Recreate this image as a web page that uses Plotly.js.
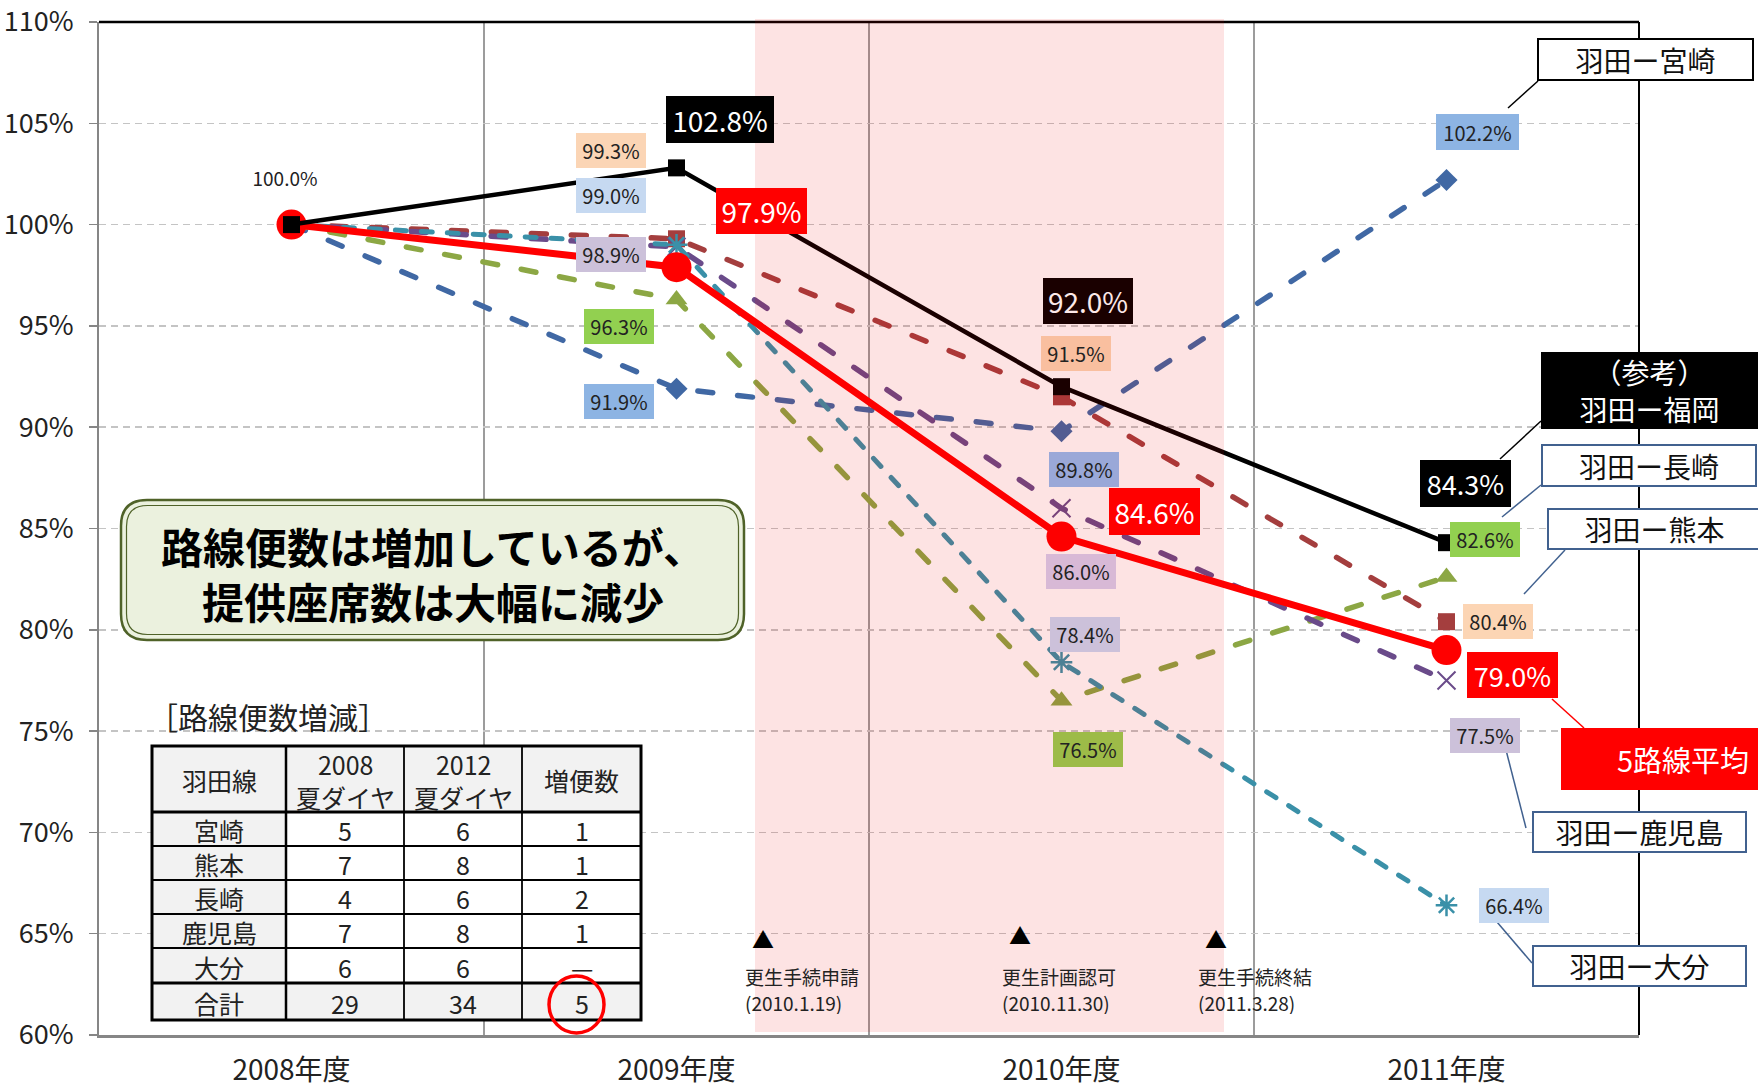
<!DOCTYPE html>
<html><head><meta charset="utf-8">
<script src="https://cdn.plot.ly/plotly-3.0.1.min.js"></script>
<style>
html,body{margin:0;padding:0;background:#fff;}
#chart{width:1758px;height:1088px;}
.scatterlayer .js-line{stroke-linecap:round;}
</style>
</head><body><div id="chart"></div>
<script>
// ---------- DATA ----------
const years = ['2008年度', '2009年度', '2010年度', '2011年度'];
const yTickVals = [60, 65, 70, 75, 80, 85, 90, 95, 100, 105, 110];
const yTickLabels = ['60%', '65%', '70%', '75%', '80%', '85%', '90%', '95%', '100%', '105%', '110%'];

const fukuoka   = [100.0, 102.8, 92.0, 84.3];   // (参考) 羽田ー福岡
const avg5      = [100.0, 97.9, 84.6, 79.0];    // 5路線平均
const miyazaki  = [100.0, 91.9, 89.8, 102.2];   // 羽田ー宮崎
const kumamoto  = [100.0, 99.3, 91.5, 80.4];    // 羽田ー熊本
const nagasaki  = [100.0, 96.3, 76.5, 82.6];    // 羽田ー長崎
const kagoshima = [100.0, 98.9, 86.0, 77.5];    // 羽田ー鹿児島
const oita      = [100.0, 99.0, 78.4, 66.4];    // 羽田ー大分

const seriesNames = ['羽田ー宮崎', '羽田ー熊本', '羽田ー長崎', '羽田ー鹿児島', '羽田ー大分', '5路線平均', '（参考）<br>羽田ー福岡'];

// table
const tblTitle = '［路線便数増減］';
const tblHeader = ['羽田線', '2008<br>夏ダイヤ', '2012<br>夏ダイヤ', '増便数'];
const tblRoutes = ['宮崎', '熊本', '長崎', '鹿児島', '大分', '合計'];
const tbl2008 = ['5', '7', '4', '7', '6', '29'];
const tbl2012 = ['6', '8', '6', '8', '6', '34'];
const tblInc = ['1', '1', '2', '1', '—', '5'];

// events
const eventNames = ['更生手続申請', '更生計画認可', '更生手続終結'];
const eventDates = ['(2010.1.19)', '(2010.11.30)', '(2011.3.28)'];

const message = '<b>路線便数は増加しているが、<br>提供座席数は大幅に減少</b>';

// ---------- LAYOUT HELPERS ----------
const W = 1758, H = 1088;
const L = 99, R = 1639, T = 22, B = 1035;
const PX = x => (x - L) / (R - L);
const PY = y => (B - y) / (B - T);
const FONT = '"Noto Sans CJK JP", "Noto Sans", sans-serif';

const st = {
  miyazaki:  {color: '#4068A4', dash: '15px,25px', width: 5.5, symbol: 'diamond', size: 17},
  kumamoto:  {color: '#A43E3E', dash: '15px,25px', width: 5.5, symbol: 'square', size: 17},
  nagasaki:  {color: '#8CA744', dash: '15px,24px', width: 5.5, symbol: 'triangle-up', size: 19},
  kagoshima: {color: '#6A4B8A', dash: '15px,25px', width: 5.5, symbol: 'x-thin-open', size: 18, mlw: 2},
  oita:      {color: '#3A90A8', dash: '11px,15px', width: 5, symbol: 'asterisk-open', size: 18, mlw: 2.5},
  avg5:      {color: '#FF0000', dash: 'solid', width: 7, symbol: 'circle', size: 30},
  fukuoka:   {color: '#000000', dash: 'solid', width: 4.5, symbol: 'square', size: 17}
};

function trace(name, y, s) {
  return {
    type: 'scatter', mode: 'lines+markers', x: years, y: y, name: name,
    line: {color: s.color, width: s.width, dash: s.dash},
    marker: {symbol: s.symbol, size: s.size, color: s.color,
             line: {color: s.color, width: s.mlw || 0}},
    cliponaxis: false, hoverinfo: 'skip', showlegend: false
  };
}

const data = [
  trace(seriesNames[0], miyazaki, st.miyazaki),
  trace(seriesNames[1], kumamoto, st.kumamoto),
  trace(seriesNames[2], nagasaki, st.nagasaki),
  trace(seriesNames[3], kagoshima, st.kagoshima),
  trace(seriesNames[4], oita, st.oita),
  trace(seriesNames[5], avg5, st.avg5),
  trace(seriesNames[6], fukuoka, st.fukuoka)
];

// ---------- DATA LABELS ----------
const lbl = [
  {s: fukuoka, i: 0, dx: -7, dy: 48, bg: 'rgba(0,0,0,0)', fc: '#222', fs: 19, w: 72, h: 24},
  {s: fukuoka, i: 1, dx: 43.5, dy: 48, bg: '#000000', fc: '#fff', fs: 28, w: 108, h: 47},
  {s: fukuoka, i: 2, dx: 26.5, dy: 86, bg: '#1A0000', fc: '#FCE8E8', fs: 28, w: 90, h: 46},
  {s: fukuoka, i: 3, dx: 18.5, dy: 58.7, bg: '#000000', fc: '#fff', fs: 27, w: 91, h: 47},
  {s: avg5, i: 1, dx: 85, dy: 56, bg: '#FF0000', fc: '#fff', fs: 28, w: 91, h: 46},
  {s: avg5, i: 2, dx: 93, dy: 25.5, bg: '#FF0000', fc: '#fff', fs: 28, w: 91, h: 47},
  {s: avg5, i: 3, dx: 66, dy: -25, bg: '#FF0000', fc: '#fff', fs: 27, w: 91, h: 46},
  {s: miyazaki, i: 1, dx: -57.5, dy: -13, bg: '#8DB4E3'},
  {s: miyazaki, i: 2, dx: 22, dy: -38, bg: '#9AA8D8'},
  {s: miyazaki, i: 3, dx: 31, dy: 48, bg: '#8DB4E3', w: 83, h: 36},
  {s: kumamoto, i: 1, dx: -65.5, dy: 88, bg: '#FBD5B5'},
  {s: kumamoto, i: 2, dx: 14.5, dy: 43, bg: '#F9BF9F'},
  {s: kumamoto, i: 3, dx: 51.5, dy: 0, bg: '#FCD5B4'},
  {s: nagasaki, i: 1, dx: -57.5, dy: -26.5, bg: '#92D050'},
  {s: nagasaki, i: 2, dx: 26, dy: -49, bg: '#9DBB48'},
  {s: nagasaki, i: 3, dx: 38.5, dy: 38, bg: '#92D050'},
  {s: kagoshima, i: 1, dx: -65.5, dy: -8, bg: '#CCC1DA'},
  {s: kagoshima, i: 2, dx: 19.5, dy: -63, bg: '#D8B9D6'},
  {s: kagoshima, i: 3, dx: 38.5, dy: -55, bg: '#CCC1DA'},
  {s: oita, i: 1, dx: -65.5, dy: 49, bg: '#C6D9F1'},
  {s: oita, i: 2, dx: 23, dy: 28, bg: '#CCC1DA'},
  {s: oita, i: 3, dx: 67.5, dy: 0, bg: '#C6D9F1'}
];

const annotations = [];
lbl.forEach(o => {
  annotations.push({
    xref: 'x', yref: 'y', x: years[o.i], y: o.s[o.i],
    xshift: o.dx, yshift: o.dy, showarrow: false,
    text: o.s[o.i].toFixed(1) + '%',
    bgcolor: o.bg, borderpad: 0, borderwidth: 0,
    width: o.w || 70, height: o.h || 35,
    align: 'center', valign: 'middle',
    font: {family: FONT, size: o.fs || 20, color: o.fc || '#222'}
  });
});

// paper annotation helper
function pa(text, cx, cy, opt) {
  opt = opt || {};
  const a = {
    xref: 'paper', yref: 'paper', x: PX(cx), y: PY(cy),
    xanchor: opt.xanchor || 'center', yanchor: 'middle',
    text: text, showarrow: false, align: opt.align || 'center', valign: 'middle',
    font: {family: FONT, size: opt.fs || 20, color: opt.fc || '#111'}
  };
  if (opt.bg) a.bgcolor = opt.bg;
  if (opt.bc) { a.bordercolor = opt.bc; a.borderwidth = opt.bw || 2; }
  else a.borderwidth = 0;
  a.borderpad = 0;
  if (opt.w) a.width = opt.w;
  if (opt.h) a.height = opt.h;
  annotations.push(a);
}

// callout boxes
pa(seriesNames[0], 1645.5, 59.5, {fs: 28, bg: '#fff', bc: '#000', w: 213, h: 39});
pa(seriesNames[6], 1649.5, 390.5, {fs: 28, fc: '#fff', bg: '#000', w: 217, h: 77});
pa(seriesNames[2], 1649, 465.5, {fs: 28, bg: '#fff', bc: '#41618F', w: 212, h: 39});
pa(seriesNames[1], 1654.5, 529, {fs: 28, bg: '#fff', bc: '#41618F', w: 211, h: 38});
pa(seriesNames[5], 1683, 759, {fs: 29, fc: '#fff', bg: '#FF0000', w: 244, h: 62});
pa(seriesNames[3], 1639.5, 832, {fs: 28, bg: '#fff', bc: '#41618F', w: 211, h: 38});
pa(seriesNames[4], 1639.5, 966, {fs: 28, bg: '#fff', bc: '#41618F', w: 211, h: 38});

// message box text
pa(message, 433, 573, {fs: 42, fc: '#000'});

// events
const evTri = [[763, 938], [1020, 934], [1216, 938]];
const evTxt = [745, 1002, 1198];
eventNames.forEach((n, k) => {
  pa('▲', evTri[k][0], evTri[k][1], {fs: 22, fc: '#000'});
  pa(n, evTxt[k], 976, {fs: 19, fc: '#222', xanchor: 'left', align: 'left', h: 24});
  pa(eventDates[k], evTxt[k], 1002, {fs: 19, fc: '#222', xanchor: 'left', align: 'left', h: 24});
});

// table
const colX = [152, 286, 404, 522, 641];
const rowY = [746, 812, 846, 880, 914, 948, 983, 1020];
pa(tblTitle, 268, 716, {fs: 30, fc: '#222'});
tblHeader.forEach((t, c) => pa(t, (colX[c] + colX[c + 1]) / 2, 780, {fs: 25, fc: '#222'}));
tblRoutes.forEach((r, k) => {
  const cy = (rowY[k + 1] + rowY[k + 2]) / 2 + 1;
  const cols = [r, tbl2008[k], tbl2012[k], tblInc[k]];
  cols.forEach((t, c) => pa(t, (colX[c] + colX[c + 1]) / 2, cy, {fs: 25, fc: '#222'}));
});

// ---------- SHAPES ----------
const shapes = [];
function rectPx(x0, y0, x1, y1, fill, lc, lw, layer) {
  shapes.push({type: 'rect', xref: 'paper', yref: 'paper', x0: PX(x0), x1: PX(x1), y0: PY(y1), y1: PY(y0),
    fillcolor: fill, line: {color: lc || 'rgba(0,0,0,0)', width: lw || 0}, layer: layer || 'above'});
}
function linePx(x0, y0, x1, y1, lc, lw, layer) {
  shapes.push({type: 'line', xref: 'paper', yref: 'paper', x0: PX(x0), x1: PX(x1), y0: PY(y0), y1: PY(y1),
    line: {color: lc, width: lw}, layer: layer || 'above'});
}
function rr(x0, y0, x1, y1, r) {
  const p = (x, y) => PX(x).toFixed(5) + ',' + PY(y).toFixed(5);
  return 'M' + p(x0 + r, y0) + ' L' + p(x1 - r, y0) + ' Q' + p(x1, y0) + ' ' + p(x1, y0 + r) +
    ' L' + p(x1, y1 - r) + ' Q' + p(x1, y1) + ' ' + p(x1 - r, y1) +
    ' L' + p(x0 + r, y1) + ' Q' + p(x0, y1) + ' ' + p(x0, y1 - r) +
    ' L' + p(x0, y0 + r) + ' Q' + p(x0, y0) + ' ' + p(x0 + r, y0) + ' Z';
}

// borders top/right
linePx(L, T, R, T, '#000', 2.5);
linePx(R, T, R, B, '#000', 2);

// green message box (double border)
shapes.push({type: 'path', xref: 'paper', yref: 'paper', path: rr(121, 500, 744, 640, 26),
  fillcolor: '#EBF1DE', line: {color: '#4F6228', width: 2.5}, layer: 'above'});
shapes.push({type: 'path', xref: 'paper', yref: 'paper', path: rr(126.5, 505.5, 738.5, 634.5, 21),
  fillcolor: 'rgba(0,0,0,0)', line: {color: '#4F6228', width: 1.2}, layer: 'above'});

// table
rectPx(colX[0], rowY[0], colX[4], rowY[7], '#F2F2F2');
rectPx(colX[1], rowY[1], colX[4], rowY[6], '#FFFFFF');
for (let c = 1; c < colX.length - 1; c++) linePx(colX[c], rowY[0], colX[c], rowY[7], '#000', c === 1 ? 2.5 : 1.8);
for (let r = 1; r < rowY.length - 1; r++) linePx(colX[0], rowY[r], colX[4], rowY[r], '#000', (r === 1 || r === 6) ? 3 : 1.8);
rectPx(colX[0], rowY[0], colX[4], rowY[7], 'rgba(0,0,0,0)', '#000', 3);
// red circle
shapes.push({type: 'circle', xref: 'paper', yref: 'paper', x0: PX(549), x1: PX(604), y0: PY(1033), y1: PY(976),
  line: {color: '#FF0000', width: 3.5}, fillcolor: 'rgba(0,0,0,0)', layer: 'above'});

// leader lines
linePx(1538, 81, 1508, 108, '#000', 1.5);
linePx(1541, 421, 1500, 459, '#000', 1.5);
linePx(1541, 485, 1502, 517, '#41618F', 1.5);
linePx(1565, 550, 1524, 594, '#41618F', 1.5);
linePx(1584, 728, 1552, 699, '#FF0000', 1.5);
linePx(1526, 828, 1506, 750, '#41618F', 1.5);
linePx(1532, 963, 1497, 922, '#41618F', 1.5);

// pink period overlay (above everything)
rectPx(755, 19, 1224, 1032, 'rgba(236,0,0,0.11)');

const layout = {
  width: W, height: H,
  margin: {l: L, r: W - R, t: T, b: H - B, pad: 0},
  paper_bgcolor: '#fff', plot_bgcolor: '#fff',
  showlegend: false,
  xaxis: {
    type: 'category', range: [-0.5, 3.5], tickson: 'boundaries',
    showgrid: true, gridcolor: '#9C9C9C', gridwidth: 1.5,
    showline: true, linecolor: '#868686', linewidth: 2.5,
    ticks: '', ticklabelstandoff: 9,
    tickfont: {family: FONT, size: 28, color: '#222'}, fixedrange: true
  },
  yaxis: {
    range: [60, 110], tickvals: yTickVals, ticktext: yTickLabels,
    showgrid: true, gridcolor: '#C4C4C4', gridwidth: 1.5, griddash: '7px,5px',
    zeroline: false, showline: true, linecolor: '#868686', linewidth: 2,
    ticks: 'outside', ticklen: 8, tickcolor: '#868686', tickwidth: 1.5, ticklabelstandoff: 10,
    tickfont: {family: FONT, size: 27, color: '#222'}, fixedrange: true
  },
  shapes: shapes,
  annotations: annotations
};

Plotly.newPlot('chart', data, layout, {staticPlot: true, displayModeBar: false});
</script></body></html>
